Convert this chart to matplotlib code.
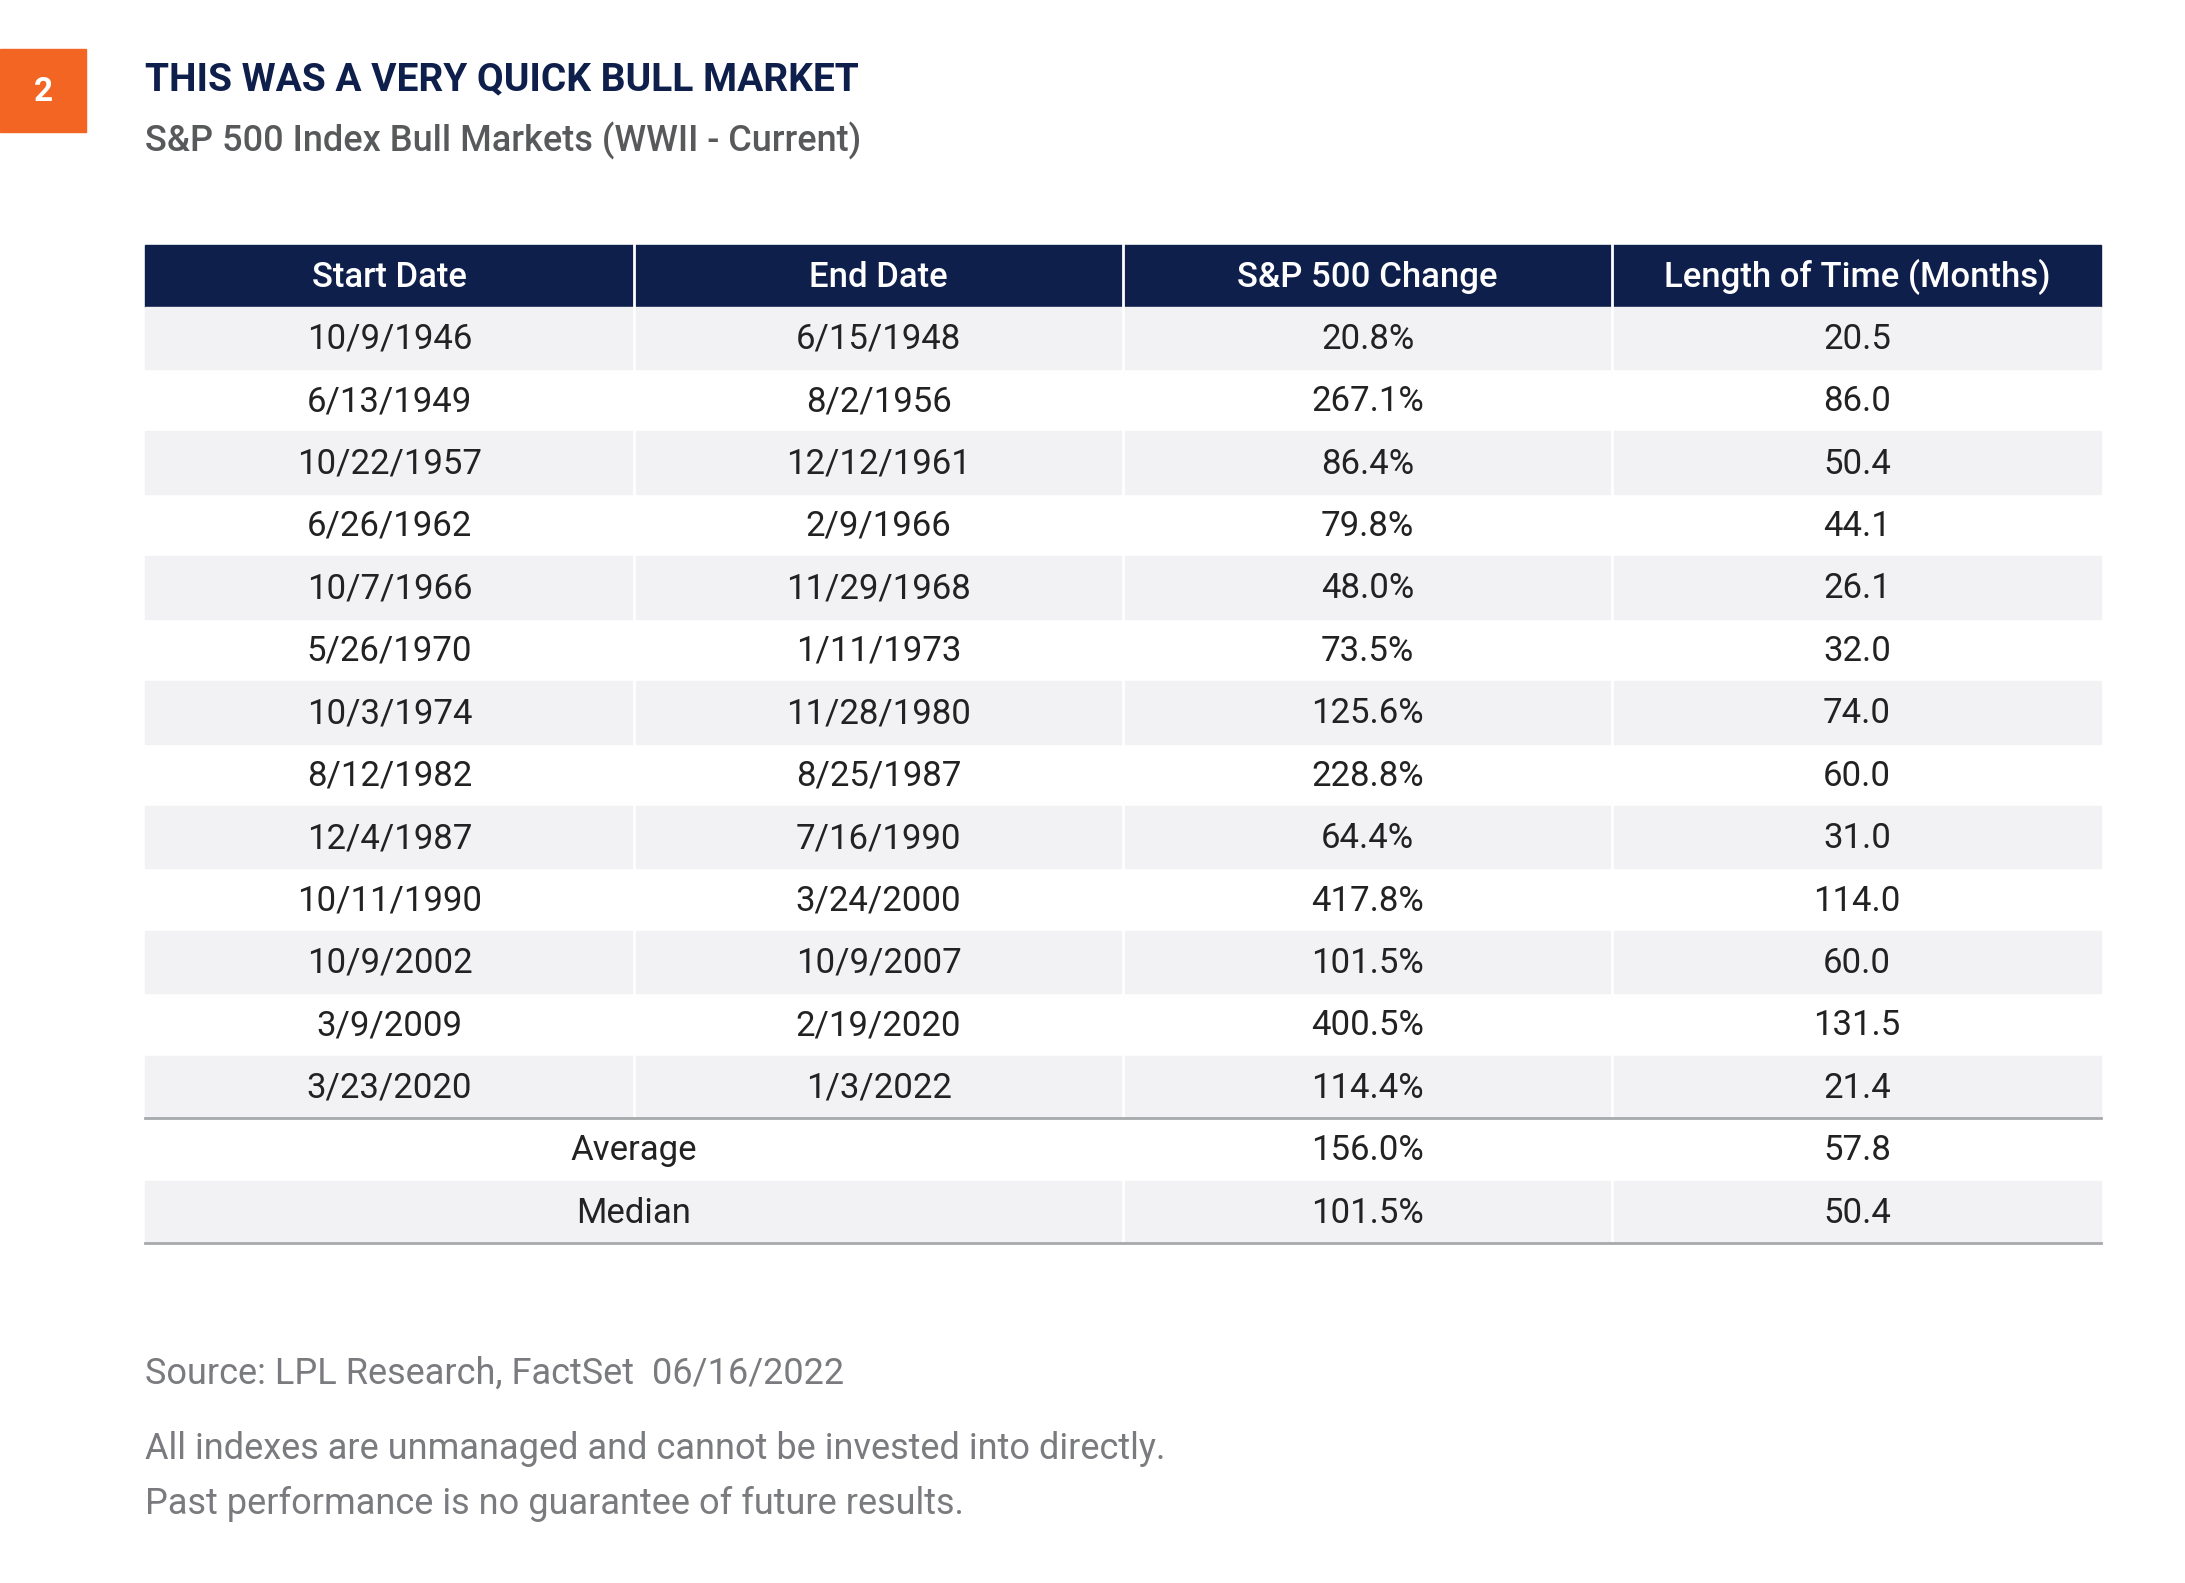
import matplotlib
matplotlib.use('Agg')
from matplotlib import pyplot as plt
from matplotlib.patches import Rectangle

plt.rcParams['font.family'] = ['Roboto', 'DejaVu Sans']

# Table data
headers = ['Start Date', 'End Date', 'S&P 500 Change', 'Length of Time (Months)']
start_dates = ['10/9/1946', '6/13/1949', '10/22/1957', '6/26/1962', '10/7/1966',
               '5/26/1970', '10/3/1974', '8/12/1982', '12/4/1987', '10/11/1990',
               '10/9/2002', '3/9/2009', '3/23/2020']
end_dates = ['6/15/1948', '8/2/1956', '12/12/1961', '2/9/1966', '11/29/1968',
             '1/11/1973', '11/28/1980', '8/25/1987', '7/16/1990', '3/24/2000',
             '10/9/2007', '2/19/2020', '1/3/2022']
changes = ['20.8%', '267.1%', '86.4%', '79.8%', '48.0%', '73.5%', '125.6%',
           '228.8%', '64.4%', '417.8%', '101.5%', '400.5%', '114.4%']
lengths = ['20.5', '86.0', '50.4', '44.1', '26.1', '32.0', '74.0', '60.0',
           '31.0', '114.0', '60.0', '131.5', '21.4']
summary_labels = ['Average', 'Median']
summary_changes = ['156.0%', '101.5%']
summary_lengths = ['57.8', '50.4']

NAVY = '#0f1f4b'
ORANGE = '#f26522'
SHADE = '#f2f2f4'
GRAY_TXT = '#7a7b7e'

W, H = 1568, 1136
fig = plt.figure(figsize=(21.85, 15.83), dpi=100)
ax = fig.add_axes([0, 0, 1, 1])
ax.set_xlim(0, W)
ax.set_ylim(H, 0)
ax.axis('off')

# Header badge and titles
ax.add_patch(Rectangle((0, 35), 62, 60, color=ORANGE))
ax.text(31, 66, '2', color='white', fontsize=24, fontweight='bold', ha='center', va='center')
ax.text(104, 57, 'THIS WAS A VERY QUICK BULL MARKET', color=NAVY, fontsize=28,
        fontweight='bold', va='center')
ax.text(104, 101, 'S&P 500 Index Bull Markets (WWII - Current)', color='#58595b',
        fontsize=26, fontweight='medium', va='center')

cols = [104, 455, 806, 1157, 1508]
centers = [(cols[i] + cols[i + 1]) / 2 for i in range(4)]
top, head_h, row_h = 176, 44, 44.8
fs = 25

# Header
ax.add_patch(Rectangle((cols[0], top), cols[-1] - cols[0], head_h, color=NAVY))
for c, h in zip(centers, headers):
    ax.text(c, top + head_h / 2 + 1, h, color='white', fontsize=fs, fontweight='medium',
            ha='center', va='center')

y0 = top + head_h
rows = list(zip(start_dates, end_dates, changes, lengths))
n = len(rows)
for i, r in enumerate(rows):
    y = y0 + i * row_h
    if i % 2 == 0:
        ax.add_patch(Rectangle((cols[0], y), cols[-1] - cols[0], row_h, color=SHADE))
    for c, v in zip(centers, r):
        ax.text(c, y + row_h / 2 + 1, v, color='#222222', fontsize=fs, ha='center', va='center')

ys = y0 + n * row_h
for j, (lab, ch, ln) in enumerate(zip(summary_labels, summary_changes, summary_lengths)):
    y = ys + j * row_h
    if j % 2 == 1:
        ax.add_patch(Rectangle((cols[0], y), cols[-1] - cols[0], row_h, color=SHADE))
    ax.text(cols[2] - (cols[2] - cols[0]) / 2, y + row_h / 2 + 1, lab, color='#222222',
            fontsize=fs, ha='center', va='center')
    ax.text(centers[2], y + row_h / 2 + 1, ch, color='#222222', fontsize=fs, ha='center', va='center')
    ax.text(centers[3], y + row_h / 2 + 1, ln, color='#222222', fontsize=fs, ha='center', va='center')

bottom = ys + 2 * row_h
# column separators
for x in cols[1:-1]:
    ax.plot([x, x], [top, ys], color='white', lw=2)
for x in cols[2:-1]:
    ax.plot([x, x], [ys, bottom], color='white', lw=2)
ax.plot([cols[0], cols[-1]], [ys, ys], color='#a7a9ac', lw=2)
ax.plot([cols[0], cols[-1]], [bottom, bottom], color='#a7a9ac', lw=2)

# Footnotes
ax.text(104, 986, 'Source: LPL Research, FactSet  06/16/2022', color=GRAY_TXT,
        fontsize=26, va='center')
ax.text(104, 1040, 'All indexes are unmanaged and cannot be invested into directly.',
        color=GRAY_TXT, fontsize=26, va='center')
ax.text(104, 1079, 'Past performance is no guarantee of future results.',
        color=GRAY_TXT, fontsize=26, va='center')

fig.savefig('out.png', dpi=100, facecolor='white')
